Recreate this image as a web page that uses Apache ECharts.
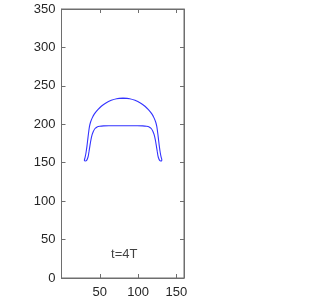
<!DOCTYPE html>
<html>
<head>
<meta charset="utf-8">
<script src="https://cdn.jsdelivr.net/npm/echarts@6/dist/echarts.min.js"></script>
<style>html,body{margin:0;padding:0;background:#fff;}#c{width:314px;height:304px;}</style>
</head>
<body>
<div id="c"></div>
<script>
// Half of the closed contour (left side); right side is its mirror about x = 80.5
var halfX = [80.5, 72, 65, 58, 52, 47.5, 43, 40, 38, 36.5, 35.5, 34.5, 33.3, 32, 30.8, 30, 29.9, 30.4, 31.5, 32.8, 34, 35, 36, 37.2, 38.5, 40, 41.7, 43.8, 46.5, 50, 55, 62, 72, 80.5];
var halfY = [234, 233.3, 231.2, 227.8, 223.5, 219, 213.5, 208, 203, 197, 190, 182, 172, 163, 157, 154, 153, 152.3, 152.2, 153, 155.5, 159, 165, 172.5, 180, 186.5, 191, 194.5, 196.6, 197.5, 197.9, 198, 198, 198];
var mirrorAxis = 161;
var annotationText = 't=4T';
var annotationPos = [82, 31];
var xTicks = [50, 100, 150];
var yTicks = [0, 50, 100, 150, 200, 250, 300, 350];

var pts = [];
for (var i = 0; i < halfX.length; i++) pts.push([halfX[i], halfY[i]]);
for (var j = halfX.length - 1; j >= 0; j--) pts.push([mirrorAxis - halfX[j], halfY[j]]);

var chart = echarts.init(document.getElementById('c'));
var axisCol = '#6e6e6e';
var txtCol = '#262626';
var font = 'Liberation Sans';
function ax(pos, min, max, showLabel, ticks, margin) {
  return {
    type: 'value', min: min, max: max, interval: 50, position: pos,
    axisLine: {show: true, onZero: false, lineStyle: {color: axisCol, width: 1}},
    axisTick: {show: true, inside: true, length: 4, lineStyle: {color: axisCol, width: 1}},
    axisLabel: {show: showLabel, inside: false, color: txtCol, fontSize: 13, fontFamily: font, margin: margin,
      formatter: function (v) { return ticks.indexOf(v) >= 0 ? String(v) : ''; }},
    splitLine: {show: false}
  };
}
chart.setOption({
  animation: false,
  grid: {left: 61.5, right: 130, top: 9, bottom: 26, show: true, borderColor: axisCol, borderWidth: 1, backgroundColor: 'transparent'},
  xAxis: [ax('bottom', 0, 160, true, xTicks, 8), ax('top', 0, 160, false, xTicks, 8)],
  yAxis: [ax('left', 0, 350, true, yTicks, 6), ax('right', 0, 350, false, yTicks, 6)],
  series: [{
    type: 'line', data: pts, showSymbol: false, smooth: 0.3,
    lineStyle: {color: '#3333ff', width: 1.1}
  }, {
    type: 'line', xAxisIndex: 1, yAxisIndex: 1, data: [], showSymbol: false
  }, {
    type: 'scatter', data: [annotationPos], symbolSize: 0,
    label: {show: true, position: 'inside', formatter: annotationText, color: '#111', fontSize: 13, fontFamily: font}
  }]
});
</script>
</body>
</html>
